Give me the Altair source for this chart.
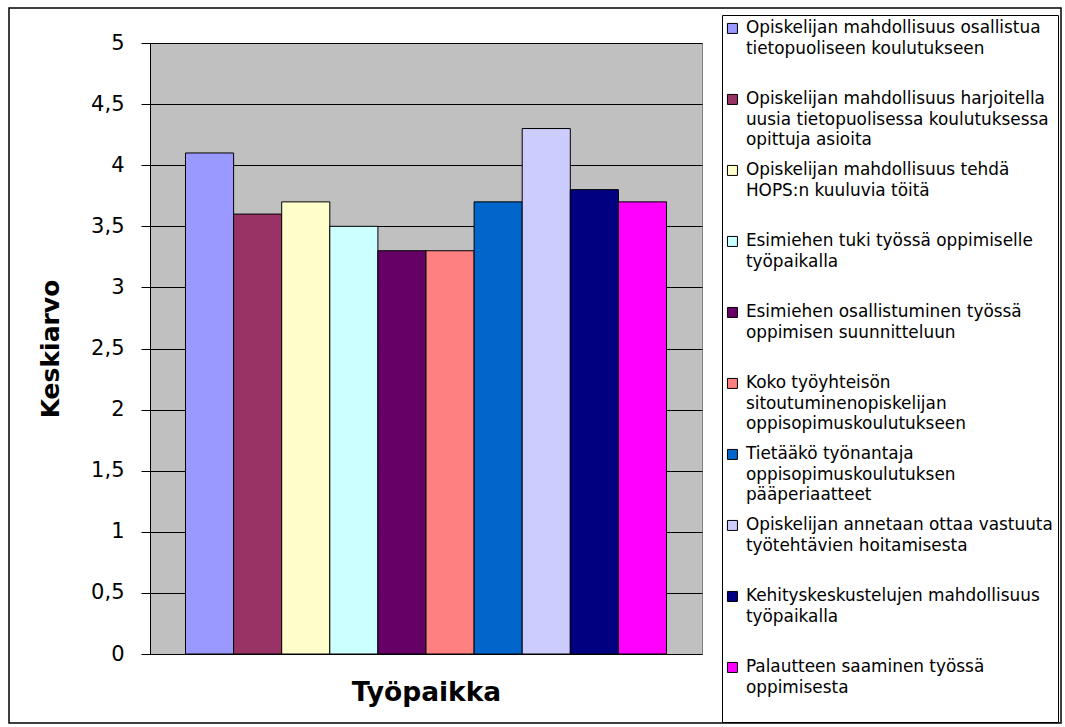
import json
import altair as alt
import pandas as pd

# ---- data ----
category = "Työpaikka"
series = [
    "Opiskelijan mahdollisuus osallistua tietopuoliseen koulutukseen",
    "Opiskelijan mahdollisuus harjoitella uusia tietopuolisessa koulutuksessa opittuja asioita",
    "Opiskelijan mahdollisuus tehdä HOPS:n kuuluvia töitä",
    "Esimiehen tuki työssä oppimiselle työpaikalla",
    "Esimiehen osallistuminen työssä oppimisen suunnitteluun",
    "Koko työyhteisön sitoutuminenopiskelijan oppisopimuskoulutukseen",
    "Tietääkö työnantaja oppisopimuskoulutuksen pääperiaatteet",
    "Opiskelijan annetaan ottaa vastuuta työtehtävien hoitamisesta",
    "Kehityskeskustelujen mahdollisuus työpaikalla",
    "Palautteen saaminen työssä oppimisesta",
]
legend_lines = [
    ["Opiskelijan mahdollisuus osallistua", "tietopuoliseen koulutukseen"],
    ["Opiskelijan mahdollisuus harjoitella", "uusia tietopuolisessa koulutuksessa", "opittuja asioita"],
    ["Opiskelijan mahdollisuus tehdä", "HOPS:n kuuluvia töitä"],
    ["Esimiehen tuki työssä oppimiselle", "työpaikalla"],
    ["Esimiehen osallistuminen työssä", "oppimisen suunnitteluun"],
    ["Koko työyhteisön", "sitoutuminenopiskelijan", "oppisopimuskoulutukseen"],
    ["Tietääkö työnantaja", "oppisopimuskoulutuksen", "pääperiaatteet"],
    ["Opiskelijan annetaan ottaa vastuuta", "työtehtävien hoitamisesta"],
    ["Kehityskeskustelujen mahdollisuus", "työpaikalla"],
    ["Palautteen saaminen työssä", "oppimisesta"],
]
values = [4.1, 3.6, 3.7, 3.5, 3.3, 3.3, 3.7, 4.3, 3.8, 3.7]
colors = ["#9999FF", "#993366", "#FFFFCC", "#CCFFFF", "#660066",
          "#FF8080", "#0066CC", "#CCCCFF", "#000080", "#FF00FF"]
y_ticks = [0, 0.5, 1, 1.5, 2, 2.5, 3, 3.5, 4, 4.5, 5]
y_title = "Keskiarvo"

FONT = "DejaVu Sans"

df = pd.DataFrame({"sarja": series, "ryhma": [category] * len(series), "keskiarvo": values})

label_map = {s: lines + [" "] * (3 - len(lines)) for s, lines in zip(series, legend_lines)}
label_expr = json.dumps(label_map, ensure_ascii=False) + "[datum.label]"

frame = alt.Chart(pd.DataFrame({"k": [0]})).mark_rect(
    fill="white", fillOpacity=0, stroke="black", strokeWidth=1.5
).encode(
    x=alt.value(-141), x2=alt.value(911), y=alt.value(-35), y2=alt.value(680)
)

bars = alt.Chart(df).mark_bar(stroke="black", strokeWidth=1).encode(
    x=alt.X(
        "sarja:N", sort=series,
        scale=alt.Scale(paddingInner=0, paddingOuter=0.738),
        axis=alt.Axis(labels=False, ticks=False, domain=False, grid=False,
                      title=category, titleFont=FONT, titleFontSize=26.5,
                      titleFontWeight="bold", titleColor="black",
                      titleBaseline="alphabetic", titleY=46),
    ),
    y=alt.Y(
        "keskiarvo:Q",
        scale=alt.Scale(domain=[0, 5], nice=False),
        axis=alt.Axis(values=y_ticks,
                      labelExpr="replace(toString(datum.value), '.', ',')",
                      labelFont=FONT, labelFontSize=21, labelColor="black",
                      labelPadding=17, tickSize=9, tickColor="black", tickWidth=1,
                      domainColor="black", domainWidth=1,
                      grid=True, gridColor="black", gridWidth=1, gridOpacity=1,
                      title=y_title, titleFont=FONT, titleFontSize=25,
                      titleFontWeight="bold", titleColor="black",
                      titleBaseline="alphabetic", titleX=-92),
    ),
    color=alt.Color(
        "sarja:N", sort=series,
        scale=alt.Scale(domain=series, range=colors),
        legend=alt.Legend(
            title=None, orient="none", legendX=572, legendY=-28,
            symbolType="square", symbolSize=100, symbolStrokeColor="black",
            symbolStrokeWidth=1, symbolOpacity=1, symbolOffset=-3,
            labelFont=FONT, labelFontSize=16.9, labelColor="black",
            labelLimit=500, labelOffset=5, labelExpr=label_expr,
            rowPadding=12, padding=5,
            strokeColor="black", fillColor="white",
        ),
    ),
)

chart = alt.layer(frame, bars).properties(
    width=552, height=611,
    autosize=alt.AutoSizeParams(type="none"),
    padding={"left": 150, "top": 43, "right": 363, "bottom": 73},
    background="white",
).configure(
    style={"guide-label": {"lineHeight": 20.5}},
    view=alt.ViewConfig(fill="#C0C0C0", stroke="#808080", strokeWidth=1),
)

chart.save("out.html", embed_options={"renderer": "svg", "actions": False})
